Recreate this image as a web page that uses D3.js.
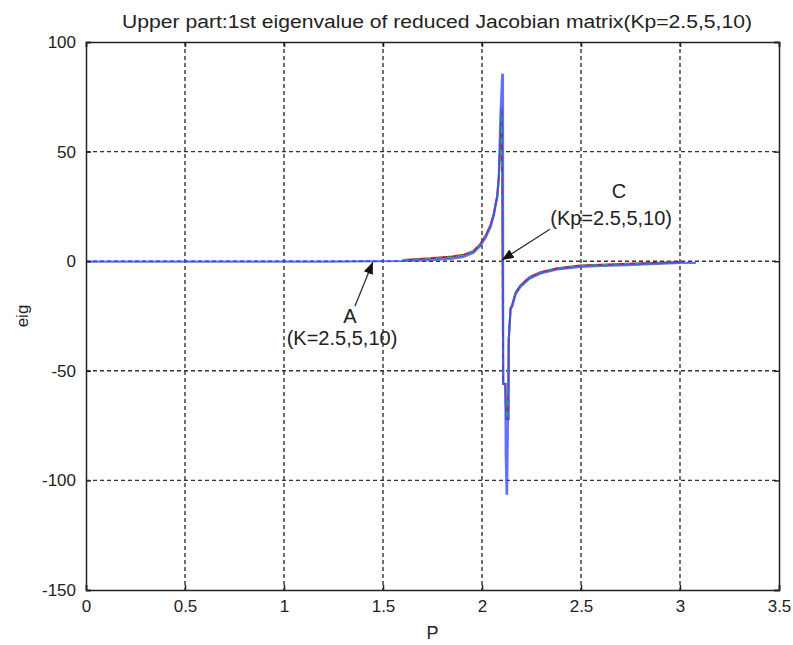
<!DOCTYPE html>
<html><head><meta charset="utf-8">
<script src="https://cdn.jsdelivr.net/npm/d3@7"></script>
<style>
html,body{margin:0;padding:0;background:#fff;}
text{font-family:"Liberation Sans",Arial,sans-serif;fill:#222;}
</style></head>
<body>
<svg id="chart" width="793" height="645"></svg>
<script>
// ---- data ----
const titleText = "Upper part:1st eigenvalue of reduced Jacobian matrix(Kp=2.5,5,10)";
const xLabel = "P";
const yLabel = "eig";
const xTicks = [0, 0.5, 1, 1.5, 2, 2.5, 3, 3.5];
const yTicks = [-150, -100, -50, 0, 50, 100];

// Blue series (K=10)
const blueP = [0, 1.22, 1.6, 1.74, 1.85, 1.906, 1.957, 1.992, 2.02, 2.043, 2.06, 2.068, 2.077, 2.085, 2.093, 2.102, 2.106, 2.107, 2.118, 2.120, 2.124, 2.127, 2.131, 2.135, 2.135, 2.144, 2.152, 2.17, 2.194, 2.24, 2.295, 2.38, 2.497, 2.6, 2.734, 2.85, 3.003, 3.08];
const blueV = [-0.2, -0.2, 0.1, 0.5, 1.2, 2.0, 3.8, 7.0, 11, 15.5, 21, 25, 29, 39, 66, 85, 85, -56, -56, -89, -106, -106, -72, -72, -36, -22, -20.8, -15, -11.7, -8, -5.6, -3.8, -2.6, -2.2, -1.8, -1.3, -0.8, -0.8];
// Red series (K=2.5)
const redP = [1.6, 1.74, 1.85, 1.906, 1.957, 1.992, 2.02, 2.043, 2.06, 2.068, 2.077, 2.085, 2.093, 2.1, 2.107, 2.118, 2.122, 2.127, 2.131, 2.135, 2.144, 2.152, 2.17, 2.194, 2.24, 2.295, 2.38, 2.497, 2.6, 2.734, 2.85, 3.0];
const redV = [0.6, 1.3, 2.1, 2.9, 4.7, 7.9, 12, 16.5, 22, 26, 30, 38, 55, 70, -56, -56, -72, -72, -72, -36, -21.5, -20, -14.2, -11, -7.3, -5, -3.2, -2, -1.6, -1.2, -0.8, -0.4];
// Green series (K=5)
const greenP = [1.6, 1.74, 1.85, 1.906, 1.957, 1.992, 2.02, 2.043, 2.06, 2.068, 2.077, 2.085, 2.093, 2.1, 2.107, 2.118, 2.122, 2.127, 2.131, 2.135, 2.144, 2.152, 2.17, 2.194, 2.24, 2.295, 2.38, 2.497, 2.6, 2.734, 2.85, 3.0];
const greenV = [0.4, 1.0, 1.8, 2.6, 4.4, 7.5, 11.6, 16, 21.5, 25.5, 29.5, 38, 55, 70, -56, -56, -72, -72, -72, -36, -21.8, -20.3, -14.5, -11.3, -7.6, -5.3, -3.4, -2.2, -1.8, -1.4, -1.0, -0.6];

// annotations (data coords)
const annoC = {label: "C", sub: "(Kp=2.5,5,10)", lx: 2.692, ly: 28.7, sx: 2.652, sy: 16.4, from: [2.343, 14.6], to: [2.10, 0.5]};
const annoA = {label: "A", sub: "(K=2.5,5,10)", lx: 1.333, ly: -28.3, sx: 1.293, sy: -38.3, from: [1.358, -20.5], to: [1.449, -0.4]};

// ---- drawing ----
const svg = d3.select("#chart");
const L = 86, R = 779, T = 42, B = 590;
const x = d3.scaleLinear().domain([0, 3.5]).range([L, R]);
const y = d3.scaleLinear().domain([-150, 100]).range([B, T]);

svg.append("rect").attr("width", 793).attr("height", 645).attr("fill", "#fff");

// grid
const grid = svg.append("g").attr("stroke", "#333").attr("stroke-width", 1.4).attr("stroke-dasharray", "4,3");
xTicks.slice(1, -1).forEach(t => grid.append("line").attr("x1", x(t)).attr("x2", x(t)).attr("y1", T).attr("y2", B));
yTicks.slice(1, -1).forEach(t => grid.append("line").attr("x1", L).attr("x2", R).attr("y1", y(t)).attr("y2", y(t)));

// series
const line = d3.line().x(d => x(d[0])).y(d => y(d[1]));
const zip = (a, b) => a.map((v, i) => [v, b[i]]);
svg.append("path").datum(zip(redP, redV)).attr("d", line).attr("fill", "none")
  .attr("stroke", "#d0103a").attr("stroke-width", 2);
svg.append("path").datum(zip(greenP, greenV)).attr("d", line).attr("fill", "none")
  .attr("stroke", "#22cc22").attr("stroke-width", 2).attr("stroke-dasharray", "6,5");
svg.append("path").datum(zip(blueP, blueV)).attr("d", line).attr("fill", "none")
  .attr("stroke", "#3a4dff").attr("stroke-opacity", 0.8).attr("stroke-width", 2.2);

// axes
const fs = "17px";
const fmt = d => String(d);
const ax = svg.append("g").attr("transform", `translate(0,${B})`)
  .call(d3.axisBottom(x).tickValues(xTicks).tickFormat(fmt).tickSize(-5).tickPadding(10));
const ay = svg.append("g").attr("transform", `translate(${L},0)`)
  .call(d3.axisLeft(y).tickValues(yTicks).tickFormat(fmt).tickSize(-5).tickPadding(10));
const at = svg.append("g").attr("transform", `translate(0,${T})`)
  .call(d3.axisTop(x).tickValues(xTicks).tickFormat("").tickSize(-5));
const ar = svg.append("g").attr("transform", `translate(${R},0)`)
  .call(d3.axisRight(y).tickValues(yTicks).tickFormat("").tickSize(-5));
[ax, ay, at, ar].forEach(g => {
  g.selectAll("path").attr("stroke", "#222").attr("stroke-width", 1.5);
  g.selectAll("line").attr("stroke", "#222").attr("stroke-width", 1.5);
  g.selectAll("text").attr("font-size", fs).attr("font-family", "Liberation Sans, Arial, sans-serif").attr("fill", "#222");
});

// title & labels
svg.append("text").attr("x", 437).attr("y", 28).attr("text-anchor", "middle")
  .attr("font-size", "18px").attr("textLength", 630).attr("lengthAdjust", "spacingAndGlyphs").text(titleText);
svg.append("text").attr("x", (L + R) / 2).attr("y", 639).attr("text-anchor", "middle").attr("font-size", "18px").text(xLabel);
svg.append("text").attr("transform", `translate(28,${(T + B) / 2}) rotate(-90)`).attr("text-anchor", "middle")
  .attr("font-size", "17px").text(yLabel);

// arrows
const defs = svg.append("defs");
defs.append("marker").attr("id", "ah").attr("viewBox", "0 0 10 10").attr("refX", 10).attr("refY", 5)
  .attr("markerWidth", 12).attr("markerHeight", 12).attr("markerUnits", "userSpaceOnUse").attr("orient", "auto")
  .append("path").attr("d", "M0,1 L10,5 L0,9 Z").attr("fill", "#111");
[annoC, annoA].forEach(a => {
  svg.append("line").attr("x1", x(a.from[0])).attr("y1", y(a.from[1])).attr("x2", x(a.to[0])).attr("y2", y(a.to[1]))
    .attr("stroke", "#333").attr("stroke-width", 1.3).attr("marker-end", "url(#ah)");
  svg.append("text").attr("x", x(a.lx)).attr("y", y(a.ly)).attr("text-anchor", "middle").attr("font-size", "20px").text(a.label);
  svg.append("text").attr("x", x(a.sx)).attr("y", y(a.sy)).attr("text-anchor", "middle").attr("font-size", "20px").text(a.sub);
});
</script>
</body></html>
